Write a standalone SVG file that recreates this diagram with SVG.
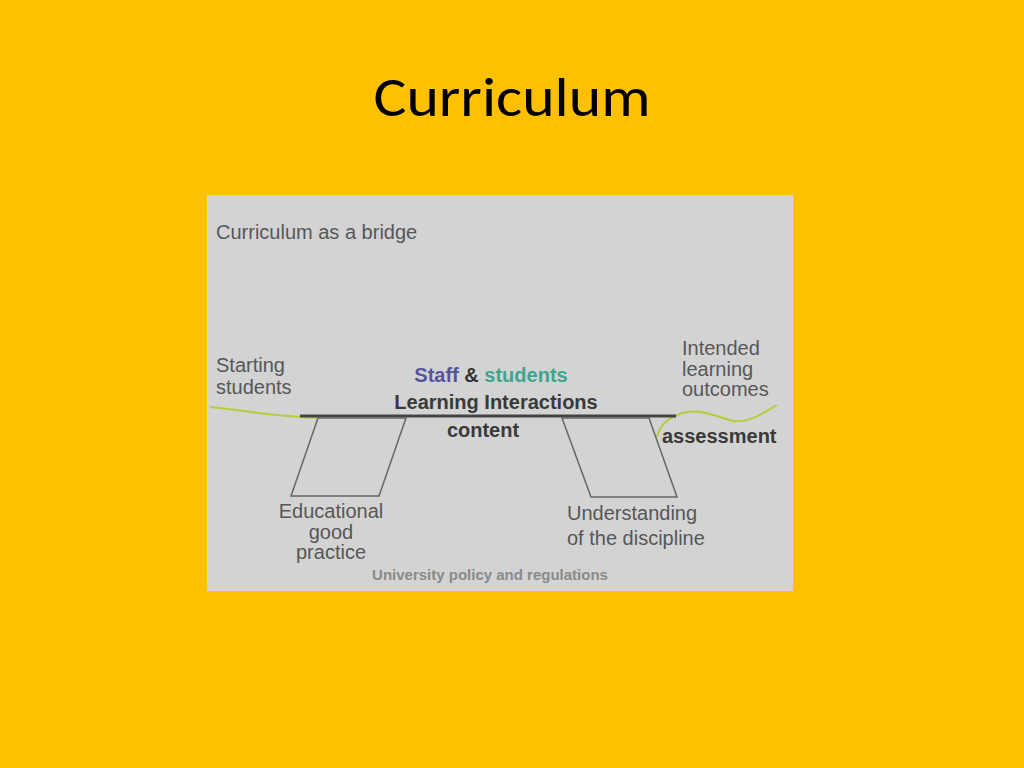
<svg xmlns="http://www.w3.org/2000/svg" width="1024" height="768" viewBox="0 0 1024 768">
<style>
.t{font-family:"Liberation Sans",Arial,sans-serif;fill:#575757;font-size:20px}
.b{font-family:"Liberation Sans",Arial,sans-serif;fill:#3a3a3a;font-size:20px;font-weight:bold}
.pier{fill:none;stroke:#666;stroke-width:1.5}
.grass{fill:none;stroke:#b8cc3a;stroke-width:2}
</style>
<rect width="1024" height="768" fill="#FFC000"/>
<text x="512" y="116" text-anchor="middle" font-family="Carlito,'Open Sans','Liberation Sans',sans-serif" font-size="56" fill="#000" textLength="277" lengthAdjust="spacingAndGlyphs">Curriculum</text>
<g id="panel">
<rect x="207" y="195" width="586" height="396" fill="#d3d3d3"/>
<text class="t" x="216" y="239">Curriculum as a bridge</text>
</g>
<g id="connectors">
<path class="grass" d="M210,407 C240,410 270,416 318,418"/>
<path class="grass" d="M657,437 C660,425 668,416 687,412 C700,410 710,414 733,421 C750,423 765,412 777,405"/>
<line x1="300" y1="416" x2="676" y2="416" stroke="#444" stroke-width="3"/>
</g>
<g id="pier-left"><polygon class="pier" points="318,418 406,418 379,496 291,496"/></g>
<g id="pier-right"><polygon class="pier" points="562,418 649,418 677,497 591,497"/></g>
<g id="starting">
<text class="t" x="216" y="372">Starting</text>
<text class="t" x="216" y="394">students</text>
</g>
<g id="deck">
<text x="491" y="382" text-anchor="middle" font-family="Liberation Sans,Arial,sans-serif" font-size="20" font-weight="bold"><tspan fill="#55559a">Staff</tspan><tspan fill="#333"> &amp; </tspan><tspan fill="#3fa58e">students</tspan></text>
<text class="b" x="496" y="409" text-anchor="middle">Learning Interactions</text>
<text class="b" x="483" y="437" text-anchor="middle">content</text>
</g>
<g id="outcomes">
<text class="t" x="682" y="355">Intended</text>
<text class="t" x="682" y="376">learning</text>
<text class="t" x="682" y="396">outcomes</text>
</g>
<g id="assessment"><text class="b" x="662" y="443">assessment</text></g>
<g id="educational">
<text class="t" x="331" y="518" text-anchor="middle">Educational</text>
<text class="t" x="331" y="539" text-anchor="middle">good</text>
<text class="t" x="331" y="559" text-anchor="middle">practice</text>
</g>
<g id="understanding">
<text class="t" x="567" y="520">Understanding</text>
<text class="t" x="567" y="545">of the discipline</text>
</g>
<g id="policy"><text x="490" y="580" text-anchor="middle" font-family="Liberation Sans,Arial,sans-serif" font-size="15" font-weight="bold" fill="#8a8a8a">University policy and regulations</text></g>
</svg>
